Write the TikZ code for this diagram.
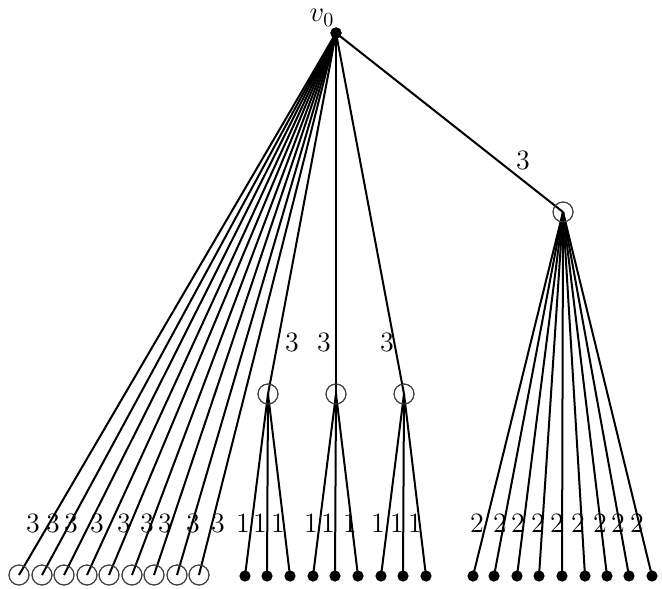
\documentclass[tikz,border=0pt]{standalone}
\begin{document}
\begin{tikzpicture}[x=0.5pt,y=-0.5pt,
  ring/.style={circle,draw=black!75,line width=0.5pt,minimum size=10pt,inner sep=0pt},
  dot/.style={circle,fill=black,minimum size=5.6pt,inner sep=0pt},
  root/.style={circle,fill=black,minimum size=5.6pt,inner sep=0pt},
  edge/.style={line width=1pt,black},
  lab/.style={font=\fontsize{14}{16}\selectfont,inner sep=0pt}]
\useasboundingbox (0,0) rectangle (662,588);
% nodes
\node[root] (v0) at (336,33) {};
\node[lab,anchor=base] at (322,22) {$v_0$};
\node[ring] (r) at (563,212) {};
\node[ring] (m1) at (268,394) {};
\node[ring] (m2) at (336,394) {};
\node[ring] (m3) at (404,394) {};
\foreach \i/\x in {1/19,2/42,3/64,4/87,5/109,6/132,7/154,8/177,9/199}
  \node[ring] (l\i) at (\x,575) {};
\foreach \i/\x in {1/245,2/267,3/290,4/313,5/335,6/358,7/381,8/403,9/426}
  \node[dot] (d\i) at (\x,576) {};
\foreach \i/\x in {1/473,2/494,3/517,4/539,5/562,6/585,7/607,8/629,9/652}
  \node[dot] (e\i) at (\x,576) {};
% edges
\foreach \i in {1,...,9} \draw[edge] (v0.center) -- (l\i.center);
\foreach \i in {1,2,3} \draw[edge] (v0.center) -- (m\i.center);
\draw[edge] (v0.center) -- (r.center);
\foreach \i in {1,2,3} \draw[edge] (m1.center) -- (d\i.center);
\foreach \i in {4,5,6} \draw[edge] (m2.center) -- (d\i.center);
\foreach \i in {7,8,9} \draw[edge] (m3.center) -- (d\i.center);
\foreach \i in {1,...,9} \draw[edge] (r.center) -- (e\i.center);
% redraw rings and dots on top
\node[root] at (v0) {};
\foreach \n in {r,m1,m2,m3,l1,l2,l3,l4,l5,l6,l7,l8,l9} \node[ring] at (\n) {};
% labels
\node[lab] at (523,160) {3};
\node[lab] at (292,342) {3};
\node[lab] at (324,342) {3};
\node[lab] at (387,342) {3};
\foreach \x in {33,53,71,97,124,147,165,193,218} \node[lab] at (\x,523) {3};
\foreach \x in {243,260,278,311,328,350,378,397,415} \node[lab] at (\x,523) {1};
\foreach \x in {477,500,518,538,557,578,600,618,637} \node[lab] at (\x,523) {2};
\end{tikzpicture}
\end{document}
